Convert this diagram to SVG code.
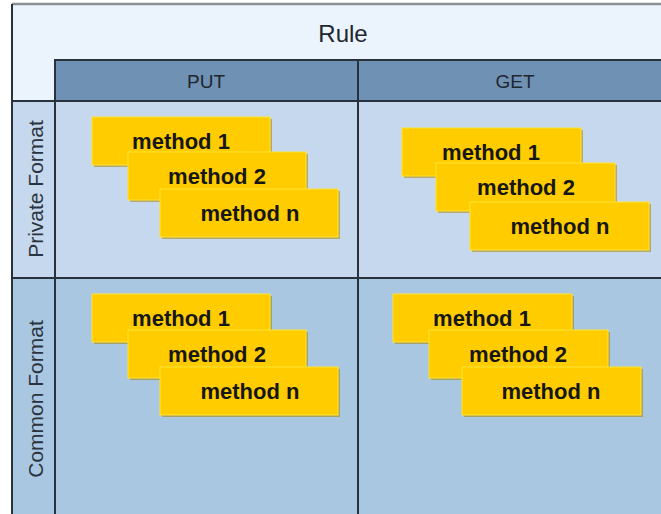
<svg xmlns="http://www.w3.org/2000/svg" width="661" height="514" viewBox="0 0 661 514">
<defs>
<style>
.box{fill:#ffcc00;stroke:#ffe433;stroke-width:1}
.sh{fill:#a88400;opacity:0.55}
.mt{font-family:"Liberation Sans",Arial,sans-serif;font-weight:bold;font-size:22px;fill:#161616;text-anchor:middle}
.hd{font-family:"Liberation Sans",Arial,sans-serif;font-size:19px;fill:#1e2630;text-anchor:middle}
.rl{font-family:"Liberation Sans",Arial,sans-serif;font-size:21px;fill:#2a3440;text-anchor:middle}
.ln{stroke:#28313c;stroke-width:2;fill:none}
</style>
</defs>
<rect x="0" y="0" width="661" height="514" fill="#ffffff"/>
<g id="frame">
<rect x="12" y="4" width="660" height="520" fill="#ebf3fd"/>
<rect x="55" y="59" width="620" height="42" fill="#6f91b3"/>
<rect x="12" y="101" width="660" height="177" fill="#c6d8ed"/>
<rect x="12" y="278" width="660" height="240" fill="#aac7e1"/>
<line x1="12" y1="4" x2="661" y2="4" stroke="#8a8f96" stroke-width="2.5"/>
<line x1="12" y1="4" x2="12" y2="514" class="ln"/>
<line x1="55" y1="60" x2="661" y2="60" class="ln"/>
<line x1="12" y1="101" x2="661" y2="101" class="ln"/>
<line x1="12" y1="278" x2="661" y2="278" class="ln"/>
<line x1="55" y1="59" x2="55" y2="514" class="ln"/>
<line x1="358" y1="59" x2="358" y2="514" class="ln"/>
<text class="rl" x="343" y="42" style="font-size:24px;fill:#1e2630">Rule</text>
<text class="hd" x="206" y="88">PUT</text>
<text class="hd" x="515" y="88">GET</text>
<text class="rl" transform="translate(43,189) rotate(-90)">Private Format</text>
<text class="rl" transform="translate(43,399) rotate(-90)">Common Format</text>
</g>
<g id="put-private">
<rect class="sh" x="94" y="119" width="178" height="48"/><rect class="box" x="92" y="117" width="178" height="48"/><text class="mt" x="181" y="149">method 1</text>
<rect class="sh" x="130" y="154" width="178" height="48"/><rect class="box" x="128" y="152" width="178" height="48"/><text class="mt" x="217" y="184">method 2</text>
<rect class="sh" x="162" y="191" width="178" height="48"/><rect class="box" x="160" y="189" width="178" height="48"/><text class="mt" x="250" y="221">method n</text>
</g>
<g id="get-private">
<rect class="sh" x="404" y="130" width="179" height="48"/><rect class="box" x="402" y="128" width="179" height="48"/><text class="mt" x="491" y="160">method 1</text>
<rect class="sh" x="438" y="165" width="179" height="48"/><rect class="box" x="436" y="163" width="179" height="48"/><text class="mt" x="526" y="195">method 2</text>
<rect class="sh" x="472" y="204" width="179" height="48"/><rect class="box" x="470" y="202" width="179" height="48"/><text class="mt" x="560" y="234">method n</text>
</g>
<g id="put-common">
<rect class="sh" x="94" y="296" width="178" height="48"/><rect class="box" x="92" y="294" width="178" height="48"/><text class="mt" x="181" y="326">method 1</text>
<rect class="sh" x="130" y="332" width="178" height="48"/><rect class="box" x="128" y="330" width="178" height="48"/><text class="mt" x="217" y="362">method 2</text>
<rect class="sh" x="162" y="369" width="178" height="48"/><rect class="box" x="160" y="367" width="178" height="48"/><text class="mt" x="250" y="399">method n</text>
</g>
<g id="get-common">
<rect class="sh" x="395" y="296" width="179" height="48"/><rect class="box" x="393" y="294" width="179" height="48"/><text class="mt" x="482" y="326">method 1</text>
<rect class="sh" x="431" y="332" width="179" height="48"/><rect class="box" x="429" y="330" width="179" height="48"/><text class="mt" x="518" y="362">method 2</text>
<rect class="sh" x="464" y="369" width="179" height="48"/><rect class="box" x="462" y="367" width="179" height="48"/><text class="mt" x="551" y="399">method n</text>
</g>
<g id="connectors"/>
</svg>
